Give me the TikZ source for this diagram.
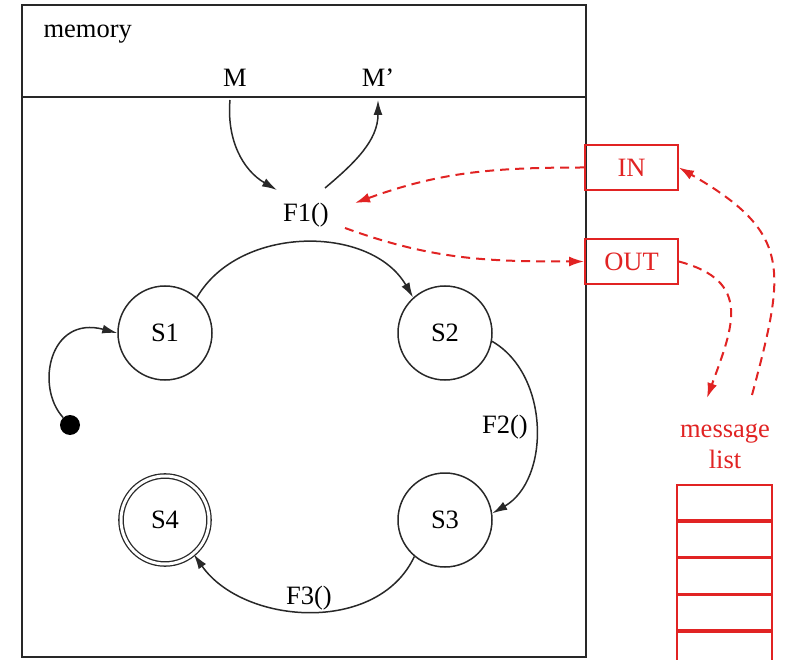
\documentclass[tikz,border=0pt]{standalone}
\usepackage{fontspec}
\setmainfont{Liberation Serif}
\usetikzlibrary{arrows.meta}
\definecolor{msgred}{RGB}{225,35,35}
\definecolor{ink}{RGB}{40,40,40}
\begin{document}
\begin{tikzpicture}[x=1pt,y=1pt,
  font=\fontsize{26.5}{31}\selectfont,
  state/.style={circle, draw=ink, line width=1.5pt, minimum size=94pt, inner sep=0pt},
  final/.style={state, double, double distance=3pt, minimum size=88pt, line width=1.3pt},
  trans/.style={draw=ink, line width=1.5pt, -{Latex[length=15pt,width=9pt]}},
  msg/.style={draw=msgred, line width=2pt, dash pattern=on 9pt off 6pt, -{Latex[length=15pt,width=10pt]}},
  port/.style={draw=msgred, line width=1.8pt, text=msgred, minimum width=93pt, minimum height=45pt, inner sep=0pt},
  cell/.style={draw=msgred, line width=1.8pt, minimum width=95pt, minimum height=35pt, inner sep=0pt, anchor=north},
]
\useasboundingbox (0,0) rectangle (786,659);

% memory frame with its header band
\draw[ink, line width=2.5pt] (22,2) rectangle (586,654);
\draw[ink, line width=2.5pt] (22,562) -- (586,562);
\node[anchor=west] (memlabel) at (40,625) {memory};
\node (m)  at (235,581) {M};
\node (mp) at (378,581) {M'};

% states
\node[state] (s1) at (165,326) {S1};
\node[state] (s2) at (445,326) {S2};
\node[state] (s3) at (445,139) {S3};
\node[final] (s4) at (165,139) {S4};
\node[circle, fill=black, minimum size=20pt, inner sep=0pt] (init) at (70,234) {};

% function call and its memory access
\node (f1) at (306,444) {F1()};
\coordinate (mtop) at (230,559);
\coordinate (f1a) at (277,469);
\coordinate (f1b) at (325,471);
\coordinate (mpt) at (378,559);
\coordinate (f1in) at (355,456);
\coordinate (f1out) at (345,431);

\draw[trans] (mtop) to[out=-95, in=150] (f1a);
\draw[trans] (f1b) to[out=40, in=-90] (mpt);

% transitions
\draw[trans] (init) .. controls +(-35,38) and +(-68,18) .. (s1.west);
\draw[trans] (s1.48) to[out=60, in=120] (s2.132);
\draw[trans] (s2.-10) to[out=-30, in=30] node[midway, left=4pt] {F2()} (s3.8);
\draw[trans] (s3.-130) to[out=-115, in=-55] node[midway, above=-3pt] {F3()} (s4.-50);

% message ports
\node[port] (in)  at (631.5,491.5) {IN};
\node[port] (out) at (631.5,397.5) {OUT};

% message list
\node[align=center, text=msgred] (ml) at (725,213) {message\\list};
\node[cell] (c1) at (724.5,175) {};
\node[cell] (c2) at (c1.south) {};
\node[cell] (c3) at (c2.south) {};
\node[cell] (c4) at (c3.south) {};
\node[cell] (c5) at (c4.south) {};
\coordinate (mlin) at (707,261);
\coordinate (mlout) at (752,264);

% message flow
\draw[msg] (in.west) to[out=180, in=20] (f1in);
\draw[msg] (f1out) to[out=-20, in=180] (out.west);
\draw[msg] (out.east) to[out=-15, in=70, looseness=1.4] (mlin);
\draw[msg] (mlout) to[out=75, in=-30, looseness=1.4] (in.east);
\end{tikzpicture}
\end{document}
